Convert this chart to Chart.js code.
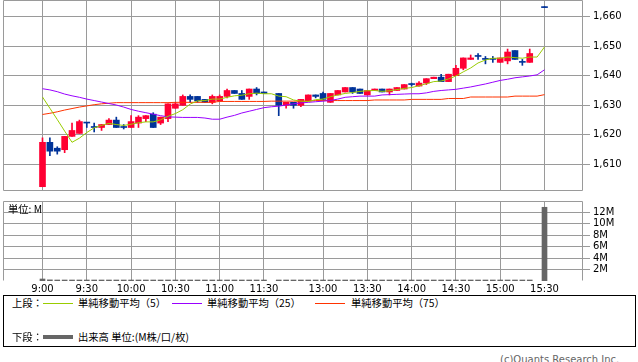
<!DOCTYPE html>
<html>
<head>
<meta charset="utf-8">
<script src="https://cdn.jsdelivr.net/npm/chart.js@4"></script>
<style>
  html, body { margin: 0; padding: 0; background: #fff; }
  #wrap { position: relative; width: 638px; height: 362px; overflow: hidden; font-family: "DejaVu Sans", sans-serif; }
  canvas { position: absolute; left: 0; }
  #price { top: 0; }
  #vol { top: 196px; }
  .t { position: absolute; white-space: nowrap; font-size: 10px; line-height: 12px; color: #000; }
  .jp { font-family: "Noto Sans CJK JP", sans-serif; font-size: 10.3px; }
  .ln { position: absolute; height: 1px; width: 30px; }
  #legend { position: absolute; left: 3px; top: 295px; width: 633px; height: 52px; box-sizing: border-box; border: 1px solid #000; }
  #copy { position: absolute; left: 500px; top: 354px; font-size: 10px; line-height: 12px; color: #666; white-space: nowrap; }
</style>
</head>
<body>
<div id="wrap">
  <canvas id="price" width="638" height="191"></canvas>
  <canvas id="vol" width="638" height="99"></canvas>
  <span class="t jp" style="left:8px;top:203px">単位: M</span>
  <div id="legend"></div>
  <span class="t jp" style="left:12px;top:297px">上段：</span>
  <div class="ln" style="left:43px;top:303px;background:#99cc00"></div>
  <span class="t jp" style="left:78px;top:297px">単純移動平均（5）</span>
  <div class="ln" style="left:172px;top:303px;background:#9900ff"></div>
  <span class="t jp" style="left:207px;top:297px">単純移動平均（25）</span>
  <div class="ln" style="left:315px;top:303px;background:#ff3300"></div>
  <span class="t jp" style="left:351px;top:297px">単純移動平均（75）</span>
  <span class="t jp" style="left:12px;top:331px">下段：</span>
  <div class="ln" style="left:43px;top:335px;height:4px;background:#666"></div>
  <span class="t jp" style="left:78px;top:331px">出来高 単位:(M株/口/枚)</span>
  <div id="copy">(c)Quants Research Inc.</div>
</div>
<script>
  // 5-minute slots, 9:00 = slot 0, lunch break squeezed to one empty slot (31)
  const tickSlots = [0, 6, 12, 18, 24, 30, 38, 44, 50, 56, 62, 68];
  const tickLabels = ['9:00', '9:30', '10:00', '10:30', '11:00', '11:30', '13:00', '13:30', '14:00', '14:30', '15:00', '15:30'];
  const priceTicks = [1610, 1620, 1630, 1640, 1650, 1660];
  const volTicks = [2, 4, 6, 8, 10, 12];

  const opens = [1602.5,1617.5,1615.5,1615,1619.5,1620.5,1624,1622.5,1622.5,1623.5,
    1625,1622.5,1622.5,1624,1625.5,1627,1624,1625.5,1629,1630,
    1633,1633,1632,1631,1631.5,1633,1635,1634,1633,1635.5,
    1634.5,null,1634,1630,1631,1630,1631.5,1633.5,1634,1631,
    1633.5,1634.5,1636,1635.5,1633.5,1635,1635.5,1634.5,1635,1635.5,
    1637,1636.5,1637.5,1639,1639.5,1638,1640,1642.5,1645.5,1646.5,
    1645.5,1645.5,1644.5,1645,1648.5,1644.5,1644.5,null,1663];
  const highs = [1619,1619,1616,1619.5,1624,1625,1624,1624,1623.5,1625.5,
    1626,1623.5,1626.5,1626.5,1626.5,1627.5,1626,1630.5,1631,1633.5,
    1633.5,1633,1632,1633.5,1633.5,1635.5,1635,1635,1635.5,1636,
    1634.5,null,1634,1631,1631,1632,1633.5,1633.5,1634.5,1634,
    1635,1636,1636,1635.5,1635,1635.5,1635.5,1635.5,1636,1637,
    1637.5,1638,1639,1639.5,1640.5,1640.5,1643.5,1646,1647,1647.5,
    1646.5,1646.5,1646,1649,1648.5,1645.5,1649,null,1663];
  const lows = [1602.5,1613,1613.5,1614,1619.5,1620.5,1622.5,1621,1621.5,1623.5,
    1622.5,1622,1622.5,1622.5,1624.5,1622.5,1623.5,1624.5,1629,1630,
    1631,1631,1631,1630.5,1631.5,1632.5,1634,1632,1632,1633.5,
    1634,null,1626.5,1629,1629,1629.5,1631.5,1632.5,1632,1631,
    1633.5,1634.5,1634,1634,1633.5,1635,1634.5,1633.5,1635,1635.5,
    1636.5,1636.5,1637,1639,1638,1638,1640,1642,1645.5,1645.5,
    1644,1644.5,1644.5,1644,1645.5,1643.5,1644.5,null,1663];
  const closes = [1617.5,1614.5,1614.5,1619.5,1621.5,1624.5,1624,1622.5,1623.5,1625,
    1622.5,1622.5,1624.5,1626,1626.5,1622.5,1626,1630.5,1630.5,1633,
    1632,1631.5,1631,1633,1633,1635,1634,1632,1635.5,1634,
    1634,null,1630,1631,1630,1632,1633.5,1633,1632,1634,
    1635,1636,1634.5,1634,1635,1635.5,1634.5,1635.5,1636,1637,
    1637,1637.5,1639,1639.5,1638,1640.5,1642.5,1646,1646,1646.5,
    1645.5,1645.5,1646,1648,1645.5,1644.5,1647.5,null,1663];

  const ma5 = [1632.8,1629,1625.2,1621.3,1617.5,1618.9,1620.8,1622.4,1623.2,1623.9,
    1623.5,1623.2,1623.6,1624.1,1624.4,1624.4,1625.1,1626.3,1627.2,1628.5,
    1630.4,1631.5,1631.6,1632.1,1632.1,1632.7,1633.2,1633.4,1633.9,1634.1,
    1633.9,1633.9,1633.1,1632.9,1631.8,1631.4,1631.3,1631.9,1632.1,1632.9,
    1633.5,1634,1634.3,1634.7,1634.9,1635,1634.7,1634.9,1635.3,1635.7,
    1636,1636.6,1637.3,1638,1638.2,1638.9,1639.9,1641.3,1642.6,1644.3,
    1645.3,1645.9,1645.9,1646.3,1646.1,1645.9,1646.3,1646.3,1649.7];
  const ma25 = [1635.6,1635.2,1634.6,1633.8,1633.2,1632.7,1632.1,1631.6,1631.1,1630.6,
    1630.1,1629.4,1628.6,1628,1627.5,1627,1626.5,1626.1,1626,1625.9,
    1625.9,1625.9,1625.7,1625.3,1625.3,1626,1626.6,1627.4,1628,1628.6,
    1629.2,1629.5,1629.7,1630.1,1630.5,1630.8,1631,1631.2,1631.4,1631.6,
    1632.1,1632.7,1632.9,1633.1,1633.1,1633.1,1633.5,1633.6,1633.7,1633.8,
    1633.9,1633.9,1634.2,1634.7,1635,1635.2,1635.4,1635.8,1636.2,1636.7,
    1637.2,1637.8,1638.4,1638.8,1639.3,1639.6,1639.9,1640.3,1642];
  const ma75 = [1626.9,1627.3,1627.8,1628.4,1628.9,1629.4,1629.8,1630.2,1630.5,1630.7,
    1630.9,1630.9,1630.9,1630.9,1630.9,1630.9,1630.9,1630.9,1631,1631,
    1631,1631,1631,1631,1631.3,1631.3,1631.3,1631.3,1631.3,1631.3,
    1631.3,1631.4,1631.4,1631.4,1631.4,1631.4,1631.4,1631.6,1631.6,1631.6,
    1631.6,1631.6,1631.6,1631.6,1631.6,1631.8,1631.8,1631.8,1631.8,1631.8,
    1632,1632,1632,1632,1632,1632.3,1632.3,1632.3,1632.8,1632.8,
    1632.8,1632.8,1632.8,1632.8,1633.1,1633.1,1633.1,1633.1,1633.6];

  // volume in millions
  const volumes = [0.35,0.2,0.15,0.15,0.12,0.12,0.1,0.1,0.1,0.1,
    0.1,0.08,0.1,0.1,0.08,0.1,0.08,0.12,0.1,0.1,
    0.1,0.08,0.08,0.08,0.08,0.1,0.08,0.08,0.08,0.08,
    0.1,null,0.12,0.1,0.08,0.08,0.08,0.08,0.08,0.08,
    0.08,0.08,0.08,0.08,0.06,0.06,0.06,0.08,0.06,0.08,
    0.08,0.06,0.08,0.08,0.08,0.08,0.1,0.12,0.1,0.08,
    0.08,0.08,0.1,0.1,0.1,0.1,0.12,null,12.9];

  const UP = '#ff0033', DOWN = '#003399', GRID = '#9a9a9a';
  const X_MIN = -5.3505, X_MAX = 73.215;
  const tickFont = { family: 'DejaVu Sans', size: 10 };

  const idx = opens.map((o, i) => i).filter(i => opens[i] !== null);
  const candleColor = i => closes[i] > opens[i] ? UP : DOWN;

  // grey frame round the plot area (bottom side optional)
  function framePlugin(bottom) {
    return {
      id: 'frame',
      beforeDatasetsDraw(chart) {
        const a = chart.chartArea, ctx = chart.ctx;
        const l = Math.round(a.left) + 0.5, r = Math.round(a.right) - 0.5;
        const t = Math.round(a.top) + 0.5, b = Math.round(a.bottom) - 0.5;
        ctx.save();
        ctx.strokeStyle = GRID;
        ctx.lineWidth = 1;
        ctx.beginPath();
        ctx.moveTo(l, b); ctx.lineTo(l, t); ctx.lineTo(r, t); ctx.lineTo(r, b);
        if (bottom) ctx.lineTo(l, b);
        ctx.stroke();
        ctx.restore();
      }
    };
  }

  function xScale(showLabels) {
    return {
      type: 'linear',
      offset: false,
      min: X_MIN,
      max: X_MAX,
      afterBuildTicks: axis => { axis.ticks = tickSlots.map(v => ({ value: v })); },
      afterFit: axis => {
        axis.height = showLabels ? 14 : 0;
        axis.paddingLeft = 0;
        axis.paddingRight = 0;
      },
      grid: { color: GRID, drawTicks: false, offset: false },
      border: { display: false },
      ticks: {
        display: showLabels,
        padding: 2,
        color: '#000',
        font: tickFont,
        maxRotation: 0,
        autoSkip: false,
        callback: v => tickLabels[tickSlots.indexOf(v)]
      }
    };
  }

  function yScale(min, max, ticks, fmt) {
    return {
      position: 'right',
      min: min,
      max: max,
      afterBuildTicks: axis => { axis.ticks = ticks.map(v => ({ value: v })); },
      afterFit: axis => {
        axis.width = 55;
        axis.paddingTop = 0;
        axis.paddingBottom = 0;
      },
      grid: { color: GRID, tickLength: 7 },
      border: { display: false },
      ticks: { padding: 3, color: '#000', font: tickFont, callback: fmt }
    };
  }

  new Chart(document.getElementById('price'), {
    data: {
      datasets: [
        { type: 'line', label: 'MA5', order: 0, data: ma5.map((v, i) => ({ x: i, y: v })),
          borderColor: '#99cc00', borderWidth: 1, pointRadius: 0, tension: 0 },
        { type: 'line', label: 'MA25', order: 0, data: ma25.map((v, i) => ({ x: i, y: v })),
          borderColor: '#9900ff', borderWidth: 1, pointRadius: 0, tension: 0 },
        { type: 'line', label: 'MA75', order: 0, data: ma75.map((v, i) => ({ x: i, y: v })),
          borderColor: '#ff3300', borderWidth: 1, pointRadius: 0, tension: 0 },
        { type: 'bar', label: 'body', order: 1, grouped: false, barThickness: 6, minBarLength: 1,
          data: idx.map(i => ({ x: i, y: [opens[i], closes[i]] })),
          backgroundColor: idx.map(candleColor) },
        { type: 'bar', label: 'wick', order: 2, grouped: false, barThickness: 1, minBarLength: 1,
          data: idx.map(i => ({ x: i, y: [lows[i], highs[i]] })),
          backgroundColor: idx.map(candleColor) }
      ]
    },
    options: {
      responsive: false,
      animation: false,
      events: [],
      layout: { padding: { left: 3, top: 0, right: 0, bottom: 0 } },
      plugins: { legend: { display: false }, tooltip: { enabled: false } },
      scales: {
        x: xScale(false),
        y: yScale(1601.05, 1665.57, priceTicks, v => v.toLocaleString('en-US'))
      }
    },
    plugins: [framePlugin(true)]
  });

  new Chart(document.getElementById('vol'), {
    type: 'bar',
    data: {
      datasets: [{
        label: '出来高',
        data: volumes.map((v, i) => ({ x: i, y: v })).filter(p => p.y !== null),
        backgroundColor: '#666',
        barThickness: 5,
        minBarLength: 1
      }]
    },
    options: {
      responsive: false,
      animation: false,
      events: [],
      layout: { padding: { left: 3, top: 5, right: 0, bottom: 0 } },
      plugins: { legend: { display: false }, tooltip: { enabled: false } },
      scales: {
        x: xScale(true),
        y: yScale(0, 14, volTicks, v => v + 'M')
      }
    },
    plugins: [framePlugin(false)]
  });
</script>
</body>
</html>
